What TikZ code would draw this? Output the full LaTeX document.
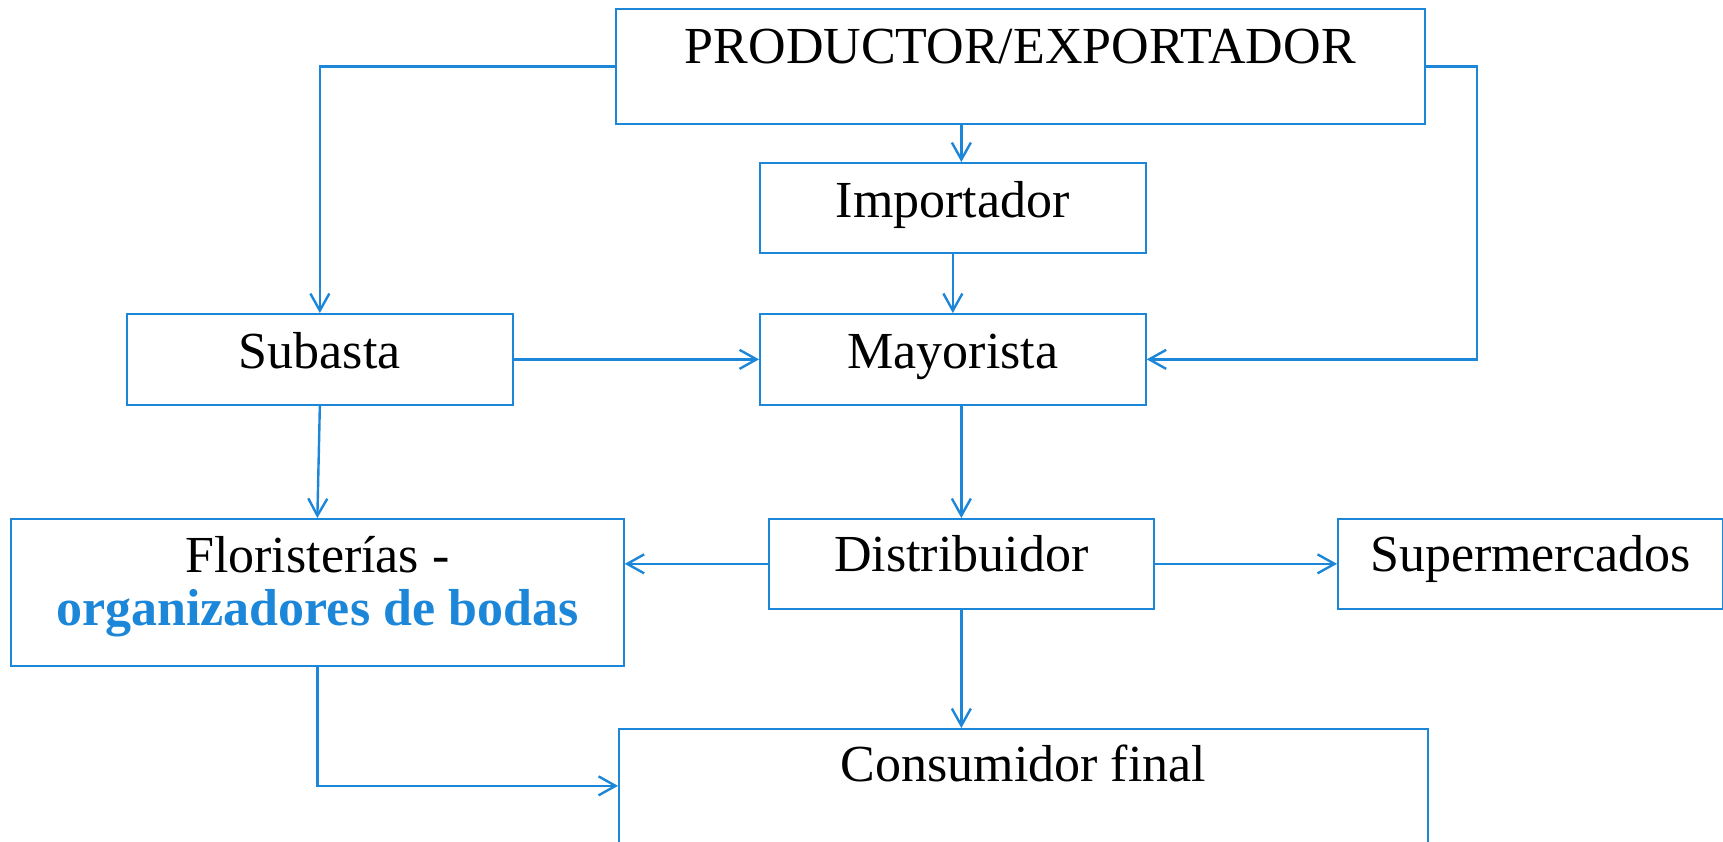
\documentclass[tikz,border=0pt]{standalone}
\usepackage{fontspec}
\setmainfont{Liberation Serif}
\usetikzlibrary{arrows.meta}

\definecolor{linkblue}{RGB}{28,134,216}

\tikzset{
  box/.style={draw=linkblue, line width=0.85pt, rectangle, anchor=north west,
    inner sep=0pt, align=center, font=\fontsize{26}{26.5}\selectfont},
  arr/.style={draw=linkblue, line width=1.2pt, -{Straight Barb[length=8.5pt, width=9.5pt]}}
}

\begin{document}
\begin{tikzpicture}[x=0.5pt, y=-0.5pt]

  \useasboundingbox (0,0) rectangle (1723,841);

  % Top row
  \node[box, minimum width=404.5pt, text height=27.5pt, text depth=30pt] (prod) at (615,8) {PRODUCTOR/EXPORTADOR};
  \node[box, minimum width=193pt, text height=27.5pt, text depth=17.5pt] (imp) at (759,162) {Importador};

  % Middle row
  \node[box, minimum width=193pt, text height=27.5pt, text depth=18pt] (sub) at (126,313) {Subasta};
  \node[box, minimum width=193pt, text height=27.5pt, text depth=18pt] (may) at (759,313) {Mayorista};

  % Lower row
  \node[box, minimum width=306.5pt, text height=53.5pt, text depth=20pt] (flor) at (10,518)
    {Florister\'ias -\\ \textcolor{linkblue}{\bfseries organizadores de bodas}};
  \node[box, minimum width=192.5pt, text height=26.5pt, text depth=18.5pt] (dist) at (768,518) {Distribuidor};
  \node[box, minimum width=192.5pt, text height=26.5pt, text depth=18.5pt] (sup) at (1337,518) {Supermercados};
  \node[box, minimum width=404.5pt, text height=26.5pt, text depth=44.5pt] (cons) at (618,728) {Consumidor final};

  % Arrows
  \draw[arr] (prod.west) -| (sub.north);
  \draw[arr] (prod.east) -- ++(51,0) |- (may.east);
  \draw[arr] (prod.south -| dist.north) -- (imp.north -| dist.north);
  \draw[arr] (imp.south) -- (may.north);
  \draw[arr] (sub.east) -- (may.west);
  \draw[arr] (sub.south) -- (flor.north);
  \draw[arr] (may.south -| dist.north) -- (dist.north);
  \draw[arr] (dist.west) -- (dist.west -| flor.east);
  \draw[arr] (dist.east) -- (sup.west);
  \draw[arr] (dist.south) -- (dist.south |- cons.north);
  \draw[arr] (flor.south) |- ([yshift=7pt]cons.west);

\end{tikzpicture}
\end{document}
